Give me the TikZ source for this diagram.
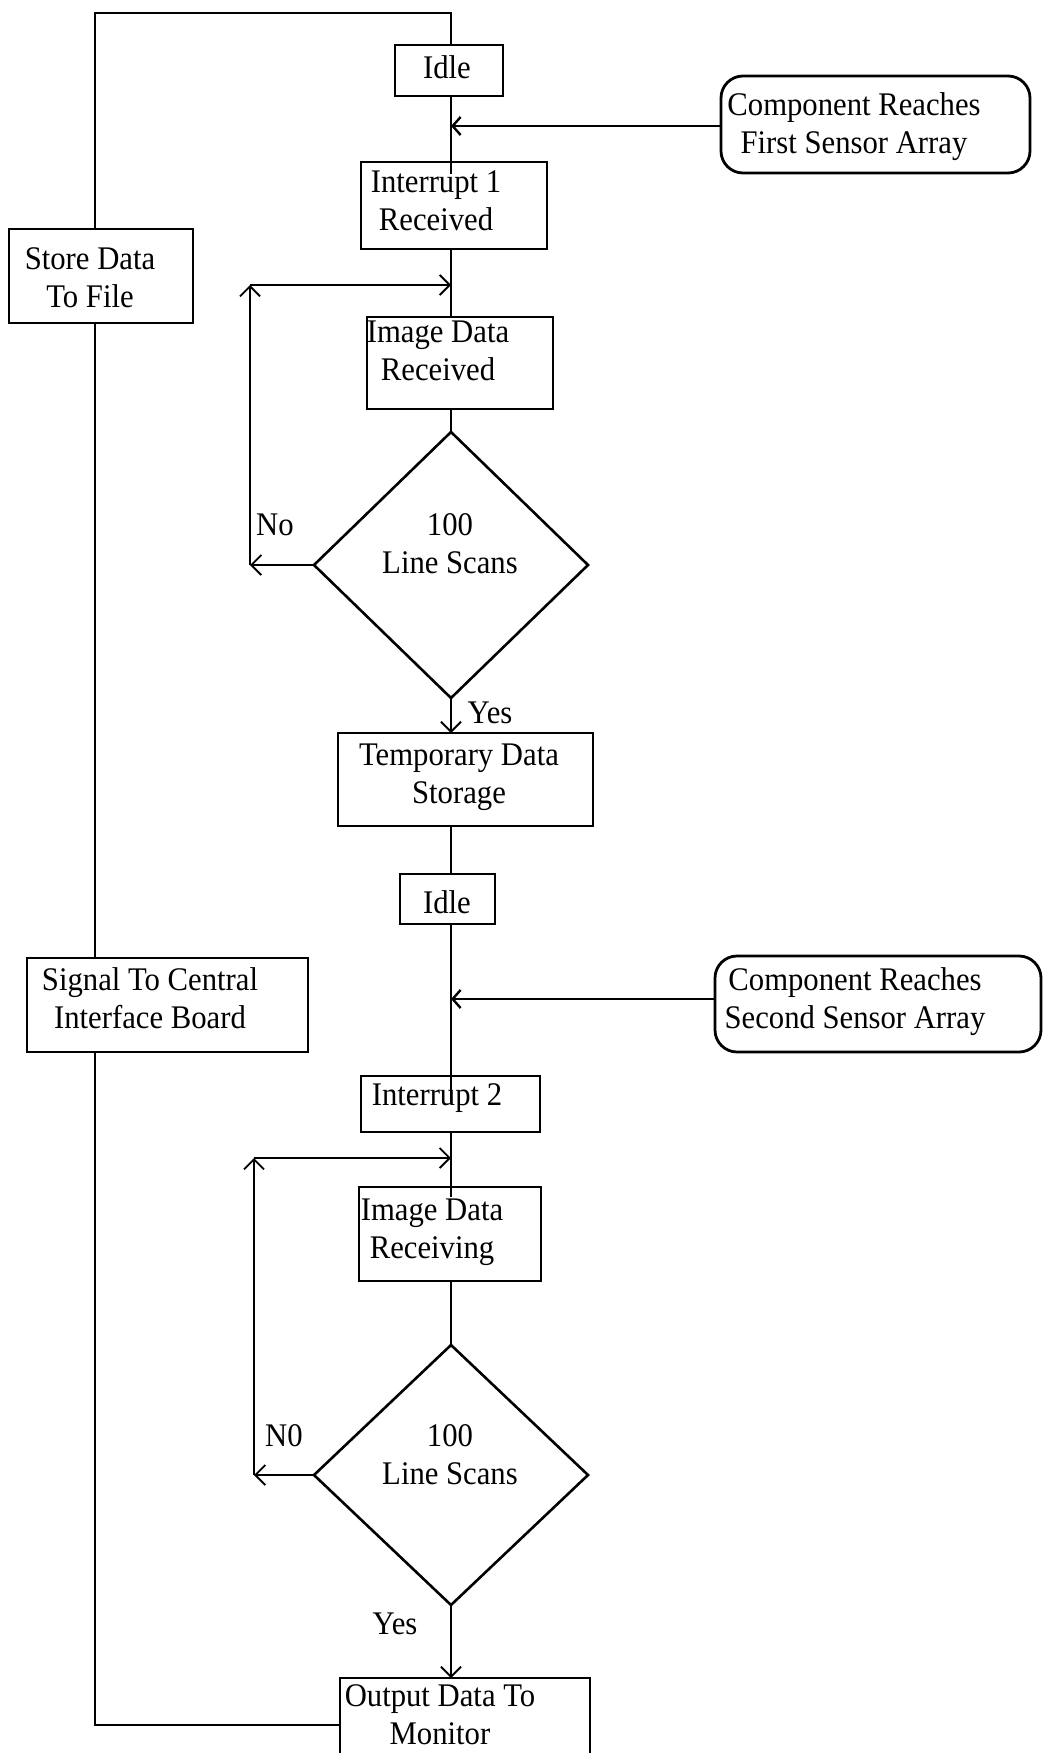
\documentclass[tikz,border=0pt]{standalone}
\usepackage{fontspec}
\setmainfont{Liberation Serif}[FakeStretch=0.93]
\usetikzlibrary{shapes.geometric,arrows.meta,calc}
\begin{document}
\begin{tikzpicture}[x=1pt,y=-1pt,
  box/.style={draw,line width=2.8pt,inner sep=0pt,outer sep=0pt},
  rbox/.style={box,rounded corners=22pt},
  dia/.style={draw,diamond,line width=2.6pt,inner sep=0pt,outer sep=0pt},
  txt/.style={font=\fontsize{33}{38}\selectfont,align=center,inner sep=0pt,anchor=base},
  conn/.style={line width=1.7pt},
  thick conn/.style={line width=2.8pt},
  arr/.style={conn,-{Straight Barb[length=10pt,width=20pt,line width=1.9pt]}},
  harr/.style={thick conn,-{Straight Barb[length=8pt,width=18pt,line width=2.4pt]}}]
\useasboundingbox (0,0) rectangle (1045,1753);
\fill[white] (0,0) rectangle (1045,1753);

% main axis helpers
\coordinate (m) at (451,0);
\coordinate (tl) at (95,13);
\coordinate (bl) at (95,1725);
\coordinate (l1) at (250,285);
\coordinate (l2) at (254,1158);

% boxes
\node[box,minimum width=108pt,minimum height=51pt] (idle1) at (449,70.5) {};
\node[rbox,minimum width=309pt,minimum height=97pt] (c1) at (875.5,124.5) {};
\node[box,minimum width=186pt,minimum height=87pt] (int1) at (454,205.5) {};
\node[box,minimum width=184pt,minimum height=94pt] (store) at (101,276) {};
\node[box,minimum width=186pt,minimum height=92pt] (img1) at (460,363) {};
\node[dia,minimum width=274pt,minimum height=266pt] (d1) at (451,565) {};
\node[box,minimum width=255pt,minimum height=93pt] (temp) at (465.5,779.5) {};
\node[box,minimum width=95pt,minimum height=50pt] (idle2) at (447.5,899) {};
\node[box,minimum width=281pt,minimum height=94pt] (signal) at (167.5,1005) {};
\node[rbox,minimum width=326pt,minimum height=96pt] (c2) at (878,1004) {};
\node[box,minimum width=179pt,minimum height=56pt] (int2) at (450.5,1104) {};
\node[box,minimum width=182pt,minimum height=94pt] (img2) at (450,1234) {};
\node[dia,minimum width=274pt,minimum height=260pt] (d2) at (451,1475) {};
\node[box,minimum width=250pt,minimum height=100pt] (out) at (465,1728) {};

% texts (anchor = baseline of last line)
\node[txt] (t-idle1) at (447,78) {Idle};
\node[txt] (t-c1) at (854,153) {Component Reaches\\First Sensor Array};
\node[txt] (t-int1) at (436,230) {Interrupt 1\\Received};
\node[txt] (t-store) at (90,307) {Store Data\\To File};
\node[txt] (t-img1) at (438,380) {Image Data\\Received};
\node[txt] (t-d1) at (450,573) {100\\Line Scans};
\node[txt] (t-no1) at (275,535) {No};
\node[txt] (t-yes1) at (490,723) {Yes};
\node[txt] (t-temp) at (459,803) {Temporary Data\\Storage};
\node[txt] (t-idle2) at (447,913) {Idle};
\node[txt] (t-signal) at (150,1028) {Signal To Central\\Interface Board};
\node[txt] (t-c2) at (855,1028) {Component Reaches\\Second Sensor Array};
\node[txt] (t-int2) at (437,1105) {Interrupt 2};
\node[txt] (t-img2) at (432,1258) {Image Data\\Receiving};
\node[txt] (t-d2) at (450,1484) {100\\Line Scans};
\node[txt] (t-no2) at (284,1446) {N0};
\node[txt] (t-yes2) at (395,1634) {Yes};
\node[txt] (t-out) at (440,1744) {Output Data To\\Monitor};

% main flow
\draw[thick conn] (idle1.north -| m) |- (tl) -- (store.north -| tl);
\draw[conn] (store.south -| tl) -- (signal.north -| tl);
\draw[thick conn] (signal.south -| tl) -- (bl) -- (out.west |- bl);
\draw[conn] (idle1.south -| m) -- ($(int1.north -| m)+(0,12)$);
\draw[conn] (int1.south -| m) -- (img1.north -| m);
\draw[conn] (img1.south -| m) -- (d1.north);
\draw[arr] (d1.south) -- (d1.south |- temp.north);
\draw[conn] (temp.south -| m) -- (idle2.north -| m);
\draw[conn] (idle2.south -| m) -- ($(int2.north -| m)+(0,27)$);
\draw[conn] (int2.south -| m) -- ($(img2.north -| m)+(0,10)$);
\draw[conn] (img2.south -| m) -- (d2.north);
\draw[arr] (d2.south) -- (d2.south |- out.north);

% sensor inputs
\draw[harr] (c1.west |- 0,126) -- (m |- 0,126);
\draw[harr] ([yshift=5pt]c2.west) -- ([yshift=5pt]c2.west -| m);

% loops
\draw[arr] (d1.west) -- (d1.west -| l1);
\draw[arr] (d1.west -| l1) -- (l1);
\draw[arr] (l1) -- (l1 -| m);
\draw[arr] (d2.west) -- (d2.west -| l2);
\draw[arr] (d2.west -| l2) -- (l2);
\draw[arr] (l2) -- (l2 -| m);
\end{tikzpicture}
\end{document}
